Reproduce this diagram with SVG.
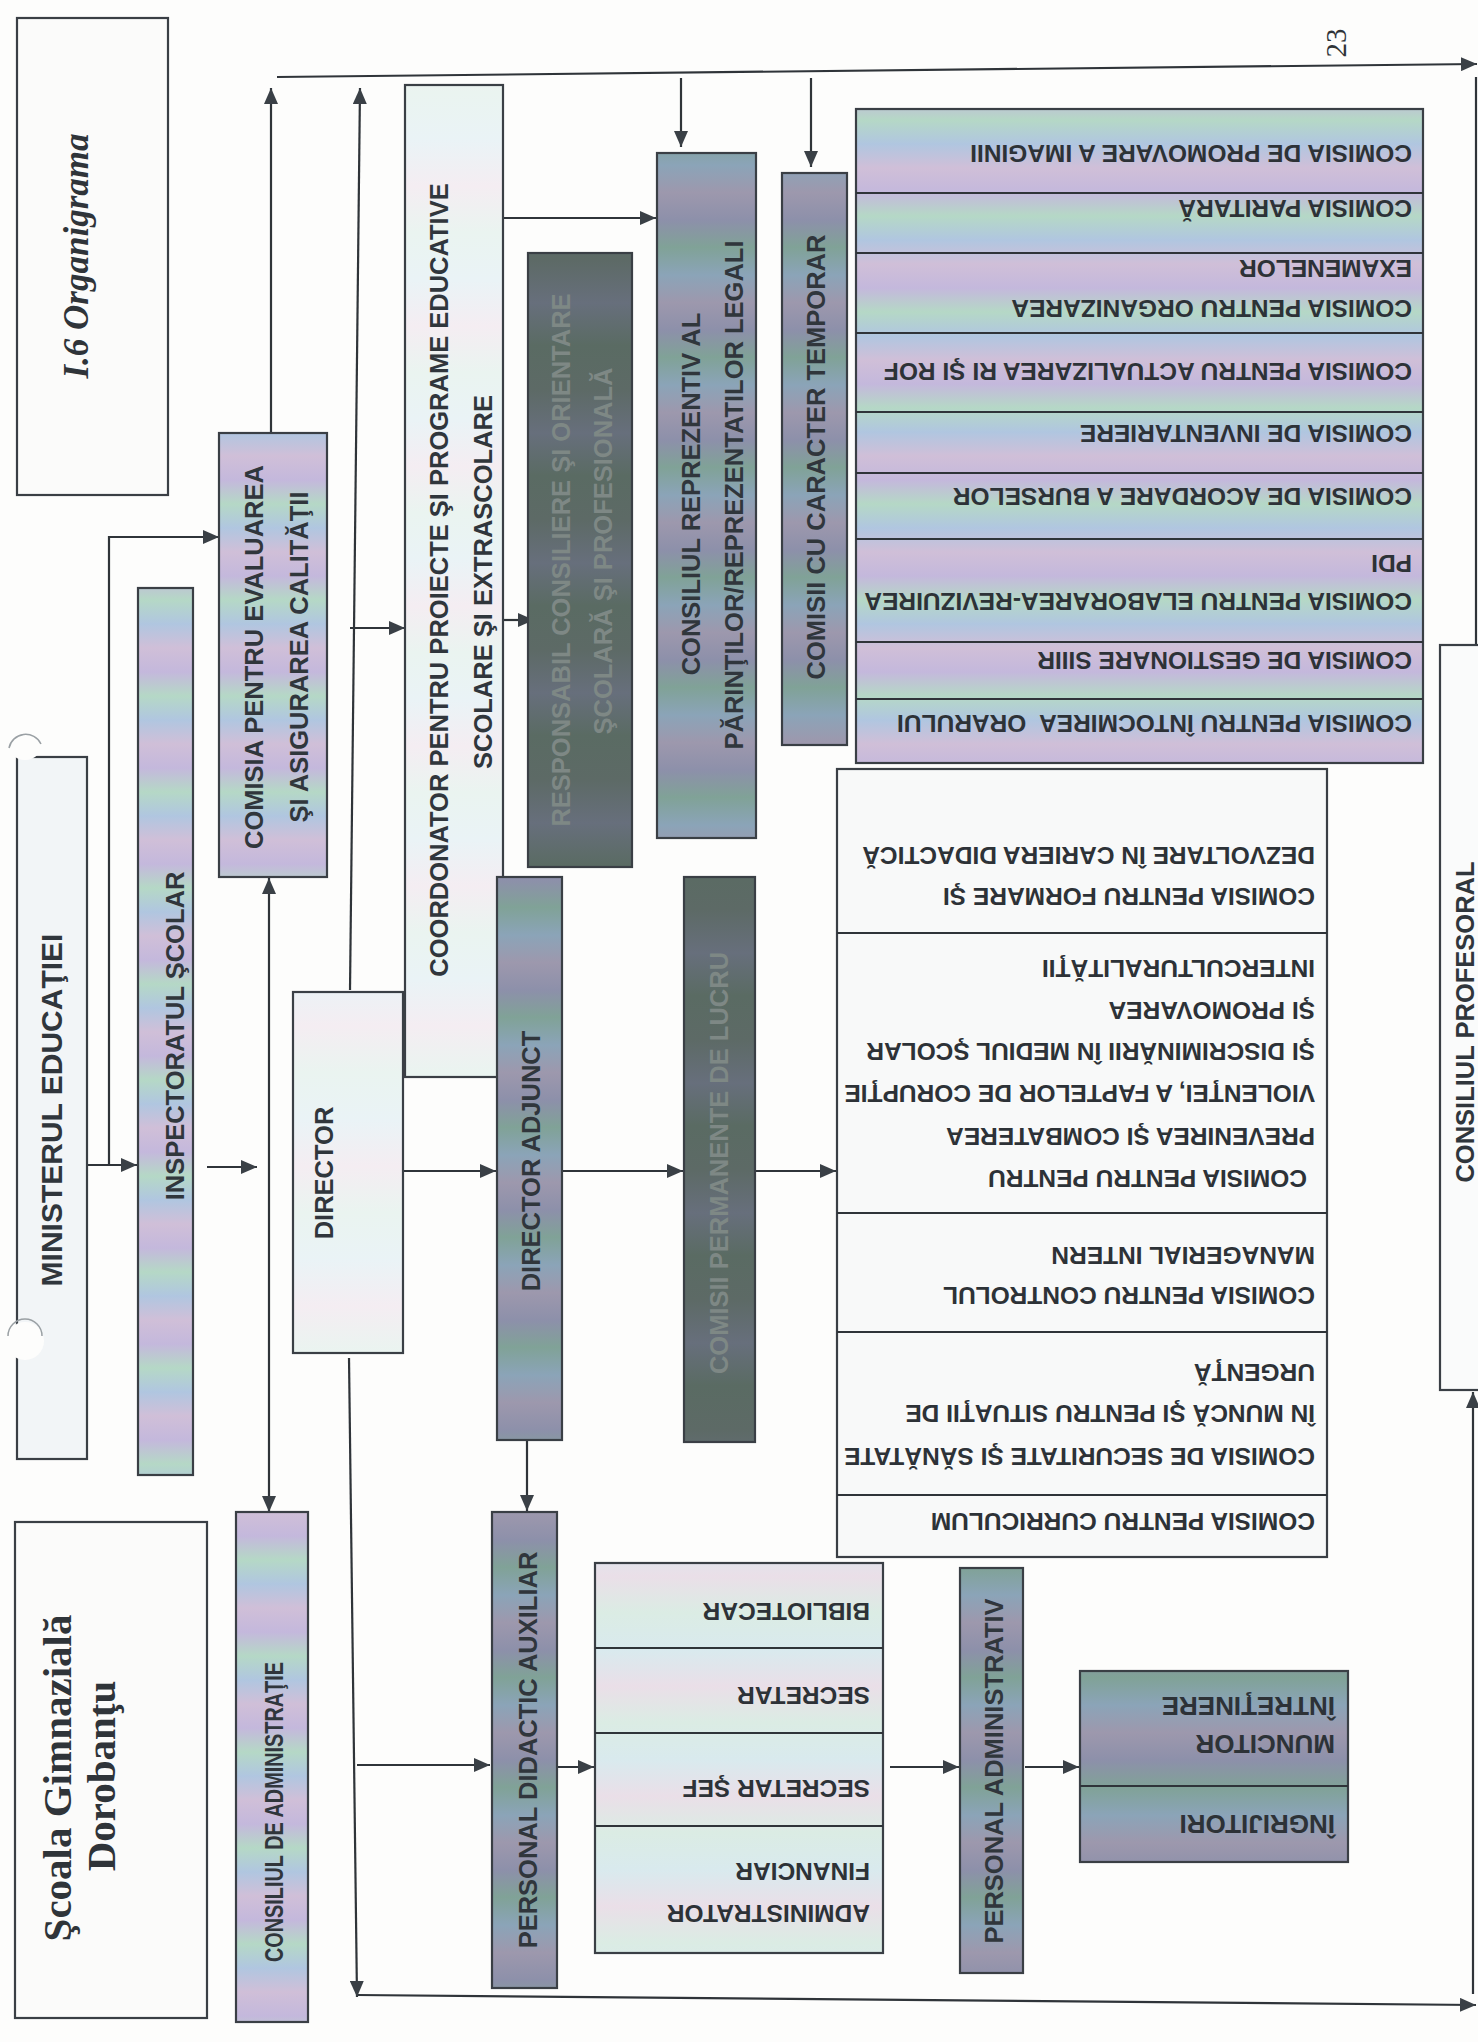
<svg xmlns="http://www.w3.org/2000/svg" width="1478" height="2042" viewBox="0 0 1478 2042">
<style>
.bx{stroke:#3a3f45;stroke-width:2.2}
.sep{stroke:#2f3439;stroke-width:2.2}
.ln{stroke:#2f3439;stroke-width:2.2;fill:none}
.ar{marker-end:url(#ah)}
.v{font-family:"Liberation Sans",Arial,sans-serif;font-weight:bold;font-size:25.5px;fill:#30363c;text-anchor:middle}
.t{font-family:"Liberation Sans",Arial,sans-serif;font-weight:bold;font-size:24.5px;fill:#2d3237}
.fd{fill:#7e8885}
.serif{font-family:"Liberation Serif","Times New Roman",serif;font-weight:bold;fill:#2f3439;text-anchor:middle}
</style>
<defs>
<marker id="ah" viewBox="0 0 16 14" refX="16" refY="7" markerWidth="16" markerHeight="14" markerUnits="userSpaceOnUse" orient="auto-start-reverse">
<path d="M0,0 L16,7 L0,14 z" fill="#3a4046"/>
</marker>
<linearGradient id="gIri" gradientUnits="userSpaceOnUse" x1="0" y1="0" x2="0" y2="96" spreadMethod="repeat">
<stop offset="0" stop-color="#c4b8dc"/><stop offset="0.25" stop-color="#b5d8c6"/><stop offset="0.5" stop-color="#b0c6e0"/><stop offset="0.75" stop-color="#d0bfd8"/><stop offset="1" stop-color="#c4b8dc"/>
</linearGradient>
<linearGradient id="gPale" gradientUnits="userSpaceOnUse" x1="0" y1="0" x2="0" y2="110" spreadMethod="repeat">
<stop offset="0" stop-color="#d9eaee"/><stop offset="0.33" stop-color="#eadfe8"/><stop offset="0.66" stop-color="#dbece4"/><stop offset="1" stop-color="#d9eaee"/>
</linearGradient>
<linearGradient id="gLight" gradientUnits="userSpaceOnUse" x1="0" y1="0" x2="0" y2="140" spreadMethod="repeat">
<stop offset="0" stop-color="#eaf3f6"/><stop offset="0.33" stop-color="#f4edf2"/><stop offset="0.66" stop-color="#eaf4f0"/><stop offset="1" stop-color="#eaf3f6"/>
</linearGradient>
<linearGradient id="gMid" gradientUnits="userSpaceOnUse" x1="0" y1="0" x2="0" y2="110" spreadMethod="repeat">
<stop offset="0" stop-color="#8d90aa"/><stop offset="0.25" stop-color="#80a297"/><stop offset="0.5" stop-color="#8ba4b8"/><stop offset="0.75" stop-color="#9d98ad"/><stop offset="1" stop-color="#8d90aa"/>
</linearGradient>
<linearGradient id="gDark" gradientUnits="userSpaceOnUse" x1="0" y1="0" x2="0" y2="130" spreadMethod="repeat">
<stop offset="0" stop-color="#5d6a66"/><stop offset="0.33" stop-color="#676f7c"/><stop offset="0.66" stop-color="#5a6b63"/><stop offset="1" stop-color="#5d6a66"/>
</linearGradient>
</defs>
<rect width="1478" height="2042" fill="#fdfdfc"/>

<g id="connectors">
<path class="ln ar" d="M271,433 L271,88"/>
<path class="ln ar" d="M350,990 L360,88"/>
<path class="ln ar" d="M277,77 L1477,64"/>
<path class="ln ar" d="M681,78 L681,147"/>
<path class="ln ar" d="M811,78 L811,167"/>
<path class="ln" d="M1476,77 L1476,645"/>
<path class="ln ar" d="M1473,1994 L1473,1392"/>
<path class="ln ar" d="M357,1995 L1476,2005"/>
<path class="ln ar" d="M349,1358 L357,1997"/>
<path class="ln ar" d="M357,1765 L490,1765"/>
<path class="ln ar" d="M557,1767 L594,1767"/>
<path class="ln ar" d="M890,1767 L959,1767"/>
<path class="ln ar" d="M1025,1767 L1079,1767"/>
<path class="ln ar" d="M87,1165 L137,1165"/>
<path class="ln ar" d="M109,1165 L109,537 L219,537"/>
<path class="ln ar" d="M207,1167 L257,1167"/>
<path class="ln" d="M269,878 L269,1512" marker-start="url(#ah)" marker-end="url(#ah)"/>
<path class="ln ar" d="M350,628 L405,628"/>
<path class="ln ar" d="M403,1171 L496,1171"/>
<path class="ln ar" d="M562,1171 L683,1171"/>
<path class="ln ar" d="M755,1171 L836,1171"/>
<path class="ln ar" d="M527,1440 L527,1511"/>
<path class="ln ar" d="M503,620 L534,620"/>
<path class="ln ar" d="M503,218 L656,218"/>
</g>

<g id="title">
<rect class="bx" x="17" y="18" width="151" height="477" fill="#fbfbfa"/>
<text class="serif" font-style="italic" font-size="35" transform="translate(88,256) rotate(-90)">I.6 Organigrama</text>
</g>

<g id="scoala">
<rect class="bx" x="15" y="1522" width="192" height="496" fill="#fbfbfa"/>
<text class="serif" font-size="41" transform="translate(71,1778) rotate(-90)">Şcoala Gimnazială</text>
<text class="serif" font-size="41" transform="translate(115,1776) rotate(-90)">Dorobanţu</text>
</g>

<g id="page-number">
<text class="serif" font-size="29" transform="translate(1346,43) rotate(-90)" style="font-weight:normal">23</text>
</g>

<g id="ministerul">
<rect class="bx" x="17" y="757" width="70" height="702" fill="#f2f5f7"/>
<circle cx="25" cy="742" r="18" fill="#fdfdfc"/>
<path d="M9,748 A17,17 0 0 1 41,744" fill="none" stroke="#9aa0a4" stroke-width="1.5"/>
<circle cx="25" cy="1341" r="19" fill="#fdfdfc"/>
<path d="M8,1336 A17,17 0 0 1 42,1336" fill="none" stroke="#9aa0a4" stroke-width="1.5"/>
<text class="v" style="font-size:30px" transform="translate(62,1110) rotate(-90)">MINISTERUL EDUCAŢIEI</text>
</g>

<g id="inspectoratul">
<rect class="bx" x="138" y="588" width="55" height="887" fill="url(#gIri)"/>
<text class="v" transform="translate(184,1036) rotate(-90)">INSPECTORATUL ŞCOLAR</text>
</g>

<g id="ceac">
<rect class="bx" x="219" y="433" width="108" height="444" fill="url(#gIri)"/>
<text class="v" transform="translate(263,657) rotate(-90)">COMISIA PENTRU EVALUAREA</text>
<text class="v" transform="translate(308,657) rotate(-90)">ŞI ASIGURAREA CALITĂŢII</text>
</g>

<g id="director">
<rect class="bx" x="293" y="992" width="110" height="361" fill="url(#gLight)"/>
<text class="v" transform="translate(333,1173) rotate(-90)">DIRECTOR</text>
</g>

<g id="consiliul-administratie">
<rect class="bx" x="236" y="1512" width="72" height="510" fill="url(#gIri)"/>
<text class="v" style="font-size:25px" textLength="300" lengthAdjust="spacingAndGlyphs" transform="translate(283,1812) rotate(-90)">CONSILIUL DE ADMINISTRAŢIE</text>
</g>

<g id="coordonator">
<rect class="bx" x="405" y="85" width="98" height="992" fill="url(#gLight)"/>
<text class="v" transform="translate(448,580) rotate(-90)">COORDONATOR PENTRU PROIECTE ŞI PROGRAME EDUCATIVE</text>
<text class="v" transform="translate(492,582) rotate(-90)">SCOLARE ŞI EXTRASCOLARE</text>
</g>

<g id="responsabil">
<rect class="bx" x="528" y="253" width="104" height="614" fill="url(#gDark)"/>
<text class="v fd" transform="translate(570,560) rotate(-90)">RESPONSABIL CONSILIERE ŞI ORIENTARE</text>
<text class="v fd" transform="translate(612,551) rotate(-90)">ŞCOLARĂ ŞI PROFESIONALĂ</text>
</g>

<g id="consiliul-reprezentativ">
<rect class="bx" x="657" y="153" width="99" height="685" fill="url(#gMid)"/>
<text class="v" transform="translate(700,494) rotate(-90)">CONSILIUL REPREZENTIV AL</text>
<text class="v" transform="translate(743,495) rotate(-90)">PĂRINŢILOR/REPREZENTATILOR LEGALI</text>
</g>

<g id="comisii-temporare">
<rect class="bx" x="782" y="173" width="65" height="572" fill="url(#gMid)"/>
<text class="v" transform="translate(825,457) rotate(-90)">COMISII CU CARACTER TEMPORAR</text>
</g>

<g id="tabel-temporar">
<rect class="bx" x="856" y="109" width="567" height="654" fill="url(#gIri)"/>
<path class="sep" d="M856,193H1423M856,253H1423M856,333H1423M856,412H1423M856,473H1423M856,539H1423M856,642H1423M856,699H1423"/>
<text class="t" transform="translate(1412,145) rotate(180)">COMISIA DE PROMOVARE A IMAGINII</text>
<text class="t" transform="translate(1412,200) rotate(180)">COMISIA PARITARĂ</text>
<text class="t" transform="translate(1412,300) rotate(180)">COMISIA PENTRU ORGANIZAREA</text>
<text class="t" transform="translate(1412,260) rotate(180)">EXAMENELOR</text>
<text class="t" transform="translate(1412,363) rotate(180)">COMISIA PENTRU ACTUALIZAREA RI ŞI ROF</text>
<text class="t" transform="translate(1412,425) rotate(180)">COMISIA DE INVENTARIERE</text>
<text class="t" transform="translate(1412,488) rotate(180)">COMISIA DE ACORDARE A BURSELOR</text>
<text class="t" transform="translate(1412,593) rotate(180)">COMISIA PENTRU ELABORAREA-REVIZUIREA</text>
<text class="t" transform="translate(1412,555) rotate(180)">PDI</text>
<text class="t" transform="translate(1412,652) rotate(180)">COMISIA DE GESTIONARE SIIIR</text>
<text class="t" transform="translate(1412,715) rotate(180)" xml:space="preserve">COMISIA PENTRU ÎNTOCMIREA  ORARULUI</text>
</g>

<g id="director-adjunct">
<rect class="bx" x="497" y="877" width="65" height="563" fill="url(#gMid)"/>
<text class="v" transform="translate(540,1161) rotate(-90)">DIRECTOR ADJUNCT</text>
</g>

<g id="comisii-permanente">
<rect class="bx" x="684" y="877" width="71" height="565" fill="url(#gDark)"/>
<text class="v fd" transform="translate(728,1163) rotate(-90)">COMISII PERMANENTE DE LUCRU</text>
</g>

<g id="tabel-permanent">
<rect class="bx" x="837" y="769" width="490" height="788" fill="#f8f9f9"/>
<path class="sep" d="M837,933H1327M837,1213H1327M837,1332H1327M837,1495H1327"/>
<text class="t" transform="translate(1315,888) rotate(180)">COMISIA PENTRU FORMARE ŞI</text>
<text class="t" transform="translate(1315,847) rotate(180)">DEZVOLTARE ÎN CARIERA DIDACTICĂ</text>
<text class="t" transform="translate(1307,1170) rotate(180)">COMISIA PENTRU PENTRU</text>
<text class="t" transform="translate(1315,1128) rotate(180)">PREVENIREA ŞI COMBATEREA</text>
<text class="t" transform="translate(1315,1085) rotate(180)">VIOLENŢEI, A FAPTELOR DE CORUPŢIE</text>
<text class="t" transform="translate(1315,1043) rotate(180)">ŞI DISCRIMINĂRII ÎN MEDIUL ŞCOLAR</text>
<text class="t" transform="translate(1315,1002) rotate(180)">ŞI PROMOVAREA</text>
<text class="t" transform="translate(1315,960) rotate(180)">INTERCULTURALITĂŢII</text>
<text class="t" transform="translate(1315,1287) rotate(180)">COMISIA PENTRU CONTROLUL</text>
<text class="t" transform="translate(1315,1247) rotate(180)">MANAGERIAL INTERN</text>
<text class="t" transform="translate(1315,1448) rotate(180)">COMISIA DE SECURITATE ŞI SĂNĂTATE</text>
<text class="t" transform="translate(1315,1405) rotate(180)">ÎN MUNCĂ ŞI PENTRU SITUAŢII DE</text>
<text class="t" transform="translate(1315,1364) rotate(180)">URGENŢĂ</text>
<text class="t" transform="translate(1315,1513) rotate(180)">COMISIA PENTRU CURRICULUM</text>
</g>

<g id="personal-didactic-auxiliar">
<rect class="bx" x="492" y="1512" width="65" height="476" fill="url(#gMid)"/>
<text class="v" transform="translate(537,1750) rotate(-90)">PERSONAL DIDACTIC AUXILIAR</text>
</g>

<g id="tabel-auxiliar">
<rect class="bx" x="595" y="1563" width="288" height="390" fill="url(#gPale)"/>
<path class="sep" d="M595,1648H883M595,1733H883M595,1826H883"/>
<text class="t" transform="translate(870,1603) rotate(180)">BIBLIOTECAR</text>
<text class="t" transform="translate(870,1687) rotate(180)">SECRETAR</text>
<text class="t" transform="translate(870,1780) rotate(180)">SECRETAR ŞEF</text>
<text class="t" transform="translate(870,1905) rotate(180)">ADMINISTRATOR</text>
<text class="t" transform="translate(870,1863) rotate(180)">FINANCIAR</text>
</g>

<g id="personal-administrativ">
<rect class="bx" x="960" y="1568" width="63" height="405" fill="url(#gMid)"/>
<text class="v" transform="translate(1003,1771) rotate(-90)">PERSONAL ADMINISTRATIV</text>
</g>

<g id="tabel-administrativ">
<rect class="bx" x="1080" y="1671" width="268" height="191" fill="url(#gMid)"/>
<path class="sep" d="M1080,1786H1348"/>
<text class="t" style="font-size:26px" transform="translate(1335,1735) rotate(180)">MUNCITOR</text>
<text class="t" style="font-size:26px" transform="translate(1335,1697) rotate(180)">ÎNTREŢINERE</text>
<text class="t" style="font-size:26px" transform="translate(1335,1815) rotate(180)">ÎNGRIJITORI</text>
</g>

<g id="consiliul-profesoral">
<rect class="bx" x="1440" y="645" width="60" height="745" fill="#fafbfb"/>
<text class="v" transform="translate(1474,1022) rotate(-90)">CONSILIUL PROFESORAL</text>
</g>
</svg>
